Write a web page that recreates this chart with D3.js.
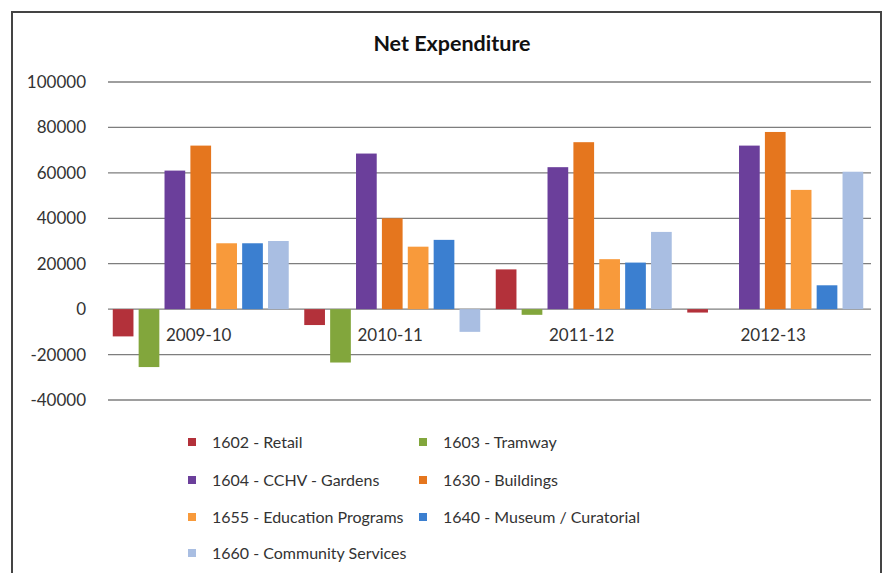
<!DOCTYPE html>
<html><head><meta charset="utf-8">
<script src="https://cdn.jsdelivr.net/npm/d3@7"></script>
<style>body{margin:0;background:#fff;}svg{display:block;font-family:Lato,"Open Sans",sans-serif;}</style>
</head><body><svg id="c" width="883" height="573"></svg>
<script>
const categories = ["2009-10","2010-11","2011-12","2012-13"];
const seriesNames = ["1602 - Retail","1603 - Tramway","1604 - CCHV - Gardens","1630 - Buildings","1655 - Education Programs","1640 - Museum / Curatorial","1660 - Community Services"];
const retail = [-12000,-7000,17500,-1500];
const tramway = [-25500,-23500,-2500,0];
const gardens = [61000,68500,62500,72000];
const buildings = [72000,40000,73500,78000];
const education = [29000,27500,22000,52500];
const museum = [29000,30500,20500,10500];
const community = [30000,-10000,34000,60500];
const yTicks = [-40000,-20000,0,20000,40000,60000,80000,100000];
const colors = ["#B3313A","#82A63C","#6B3F9B","#E5761E","#F89A3B","#3B7FD0","#A9BEE2"];
const seriesValues = [retail,tramway,gardens,buildings,education,museum,community];

(function(){
const svg = d3.select("#c");
svg.append("rect").attr("x",12).attr("y",12).attr("width",869).attr("height",575)
  .attr("fill","#fff").attr("stroke","#444").attr("stroke-width",2);

const pl=105,pr=871,pt=82,pb=400;
const y = d3.scaleLinear().domain([-40000,100000]).range([pb,pt]);
const x0 = d3.scaleBand().domain(categories).range([pl,pr]).padding(0);
const x1 = d3.scaleBand().domain(d3.range(seriesNames.length)).range([0,x0.bandwidth()]).paddingInner(0.2).paddingOuter(0.3);

svg.append("text").attr("x",452).attr("y",51).attr("text-anchor","middle")
  .attr("font-size",21.5).attr("font-weight","bold").attr("fill","#111").text("Net Expenditure");

svg.append("g").selectAll("line").data(yTicks).join("line")
  .attr("x1",108).attr("x2",pr).attr("y1",d=>y(d)).attr("y2",d=>y(d))
  .attr("stroke","#7e7e7e").attr("stroke-width",1.3);
const yAxis = d3.axisLeft(y).tickValues(yTicks).tickSize(0).tickPadding(0).tickFormat(d=>String(d));
const ga = svg.append("g").attr("transform","translate(86,0)").call(yAxis);
ga.select(".domain").remove();
ga.selectAll("text").attr("font-size",17).attr("fill","#333").attr("font-family","Lato,'Open Sans',sans-serif");

const groups = svg.append("g").selectAll("g").data(categories).join("g")
  .attr("transform",d=>`translate(${x0(d)},0)`);
groups.selectAll("rect").data((c,ci)=>seriesValues.map((s,si)=>({si,v:s[ci]}))).join("rect")
  .attr("x",d=>x1(d.si)).attr("width",x1.bandwidth())
  .attr("y",d=>y(Math.max(0,d.v))).attr("height",d=>Math.abs(y(d.v)-y(0)))
  .attr("fill",d=>colors[d.si]);

svg.append("g").selectAll("text").data(categories).join("text")
  .attr("x",d=>x0(d)+x0.bandwidth()/2-2).attr("y",y(0)+32).attr("text-anchor","middle")
  .attr("font-size",17).attr("fill","#333").text(d=>d);

const lx=[192,423], ly=[442,480,517,553];
const leg = svg.append("g").selectAll("g").data(seriesNames).join("g")
  .attr("transform",(d,i)=>`translate(${lx[i%2]},${ly[Math.floor(i/2)]})`);
leg.append("rect").attr("x",-4).attr("y",-4).attr("width",8).attr("height",8).attr("fill",(d,i)=>colors[i]);
leg.append("text").attr("x",20).attr("y",6).attr("font-size",16).attr("fill","#333").text(d=>d);
})();
</script></body></html>
